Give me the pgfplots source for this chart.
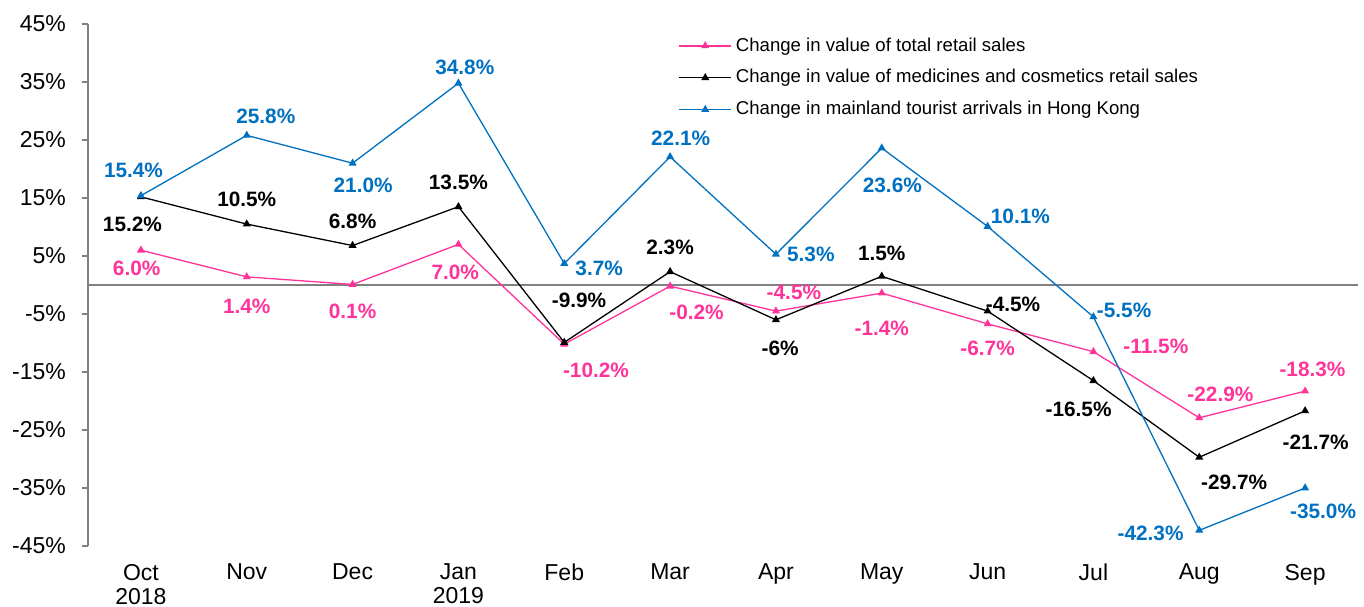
\documentclass[border=0pt]{standalone}
\usepackage{pgfplots}
\pgfplotsset{compat=1.18}
\usepackage{fontspec}
\setmainfont{Liberation Sans}
\definecolor{rpink}{HTML}{FF3399}
\definecolor{rblue}{HTML}{0070C0}
\definecolor{raxis}{HTML}{808080}
\newcommand\lbl[4]{\node[text=#1, font=\bfseries\fontsize{10.4}{12}\selectfont, inner sep=0pt] at (axis cs:#2,#3) {#4\%};}

\begin{document}
\begin{tikzpicture}
\begin{axis}[
  scale only axis,
  width=635pt, height=261pt,
  xmin=-0.5, xmax=11.5,
  ymin=-45, ymax=45,
  clip=false,
  axis lines*=left,
  x axis line style={draw=none},
  xtick={0,...,11},
  xticklabels={{Oct\\2018},Nov,Dec,{Jan\\2019},Feb,Mar,Apr,May,Jun,Jul,Aug,Sep},
  xticklabel style={align=center, font=\fontsize{11.5}{12}\selectfont, yshift=-2.5pt},
  xtick style={draw=none},
  y axis line style={raxis, line width=0.9pt},
  ytick={-45,-35,...,45},
  yticklabel={\pgfmathprintnumber{\tick}\%},
  yticklabel style={font=\fontsize{11.5}{13}\selectfont, xshift=-4.5pt},
  /pgf/number format/assume math mode=true,
  ytick style={raxis, line width=0.9pt},
  tick align=outside,
  major tick length=3pt,
  legend style={draw=none, fill=none, at={(0.46,0.99)}, anchor=north west,
    font=\fontsize{9.3}{11}\selectfont, row sep=3.7pt,
    /tikz/every even column/.append style={column sep=2pt}},
  legend cell align=left,
  legend image code/.code={
    \draw[#1] (0pt,0pt) -- (26pt,0pt);
    \draw[#1] plot coordinates {(13pt,0pt)};},
  every axis plot/.append style={line width=0.65pt, mark=triangle*, mark size=1.7pt},
]

\draw[raxis, line width=0.9pt] (axis cs:-0.5,0) -- (axis cs:11.5,0);

% total retail sales
\addplot[rpink, mark options={rpink}] coordinates {
  (0,6.0)(1,1.4)(2,0.1)(3,7.0)(4,-10.2)(5,-0.2)(6,-4.5)(7,-1.4)(8,-6.7)(9,-11.5)(10,-22.9)(11,-18.3)};
% medicines and cosmetics
\addplot[black, mark options={black}] coordinates {
  (0,15.2)(1,10.5)(2,6.8)(3,13.5)(4,-9.9)(5,2.3)(6,-6)(7,1.5)(8,-4.5)(9,-16.5)(10,-29.7)(11,-21.7)};
% mainland tourist arrivals
\addplot[rblue, mark options={rblue}] coordinates {
  (0,15.4)(1,25.8)(2,21.0)(3,34.8)(4,3.7)(5,22.1)(6,5.3)(7,23.6)(8,10.1)(9,-5.5)(10,-42.3)(11,-35.0)};

\legend{Change in value of total retail sales,
  Change in value of medicines and cosmetics retail sales,
  Change in mainland tourist arrivals in Hong Kong}

% value labels
\lbl{rblue}{-0.07}{19.7}{15.4}
\lbl{rblue}{1.18}{29.0}{25.8}
\lbl{rblue}{2.1}{17.1}{21.0}
\lbl{rblue}{3.06}{37.6}{34.8}
\lbl{rblue}{4.33}{2.8}{3.7}
\lbl{rblue}{5.10}{25.3}{22.1}
\lbl{rblue}{6.33}{5.3}{5.3}
\lbl{rblue}{7.1}{17.1}{23.6}
\lbl{rblue}{8.31}{11.9}{10.1}
\lbl{rblue}{9.29}{-4.3}{-5.5}
\lbl{rblue}{9.54}{-42.8}{-42.3}
\lbl{rblue}{11.17}{-39.0}{-35.0}

\lbl{black}{-0.08}{10.5}{15.2}
\lbl{black}{1.0}{14.8}{10.5}
\lbl{black}{2.0}{10.9}{6.8}
\lbl{black}{3.0}{17.7}{13.5}
\lbl{black}{4.14}{-2.7}{-9.9}
\lbl{black}{5.0}{6.5}{2.3}
\lbl{black}{6.04}{-11.0}{-6}
\lbl{black}{7.0}{5.5}{1.5}
\lbl{black}{8.24}{-3.3}{-4.5}
\lbl{black}{8.86}{-21.4}{-16.5}
\lbl{black}{10.33}{-34.0}{-29.7}
\lbl{black}{11.1}{-27.1}{-21.7}

\lbl{rpink}{-0.04}{2.9}{6.0}
\lbl{rpink}{1.0}{-3.6}{1.4}
\lbl{rpink}{2.0}{-4.5}{0.1}
\lbl{rpink}{2.97}{2.2}{7.0}
\lbl{rpink}{4.3}{-14.8}{-10.2}
\lbl{rpink}{5.25}{-4.8}{-0.2}
\lbl{rpink}{6.17}{-1.2}{-4.5}
\lbl{rpink}{7.0}{-7.5}{-1.4}
\lbl{rpink}{8.0}{-11.0}{-6.7}
\lbl{rpink}{9.59}{-10.5}{-11.5}
\lbl{rpink}{10.2}{-18.8}{-22.9}
\lbl{rpink}{11.07}{-14.5}{-18.3}

\end{axis}
\pgfresetboundingbox
\path ([shift={(-44pt,-30.5pt)}]current axis.south west) rectangle ([shift={(3pt,12pt)}]current axis.north east);
\end{tikzpicture}
\end{document}
